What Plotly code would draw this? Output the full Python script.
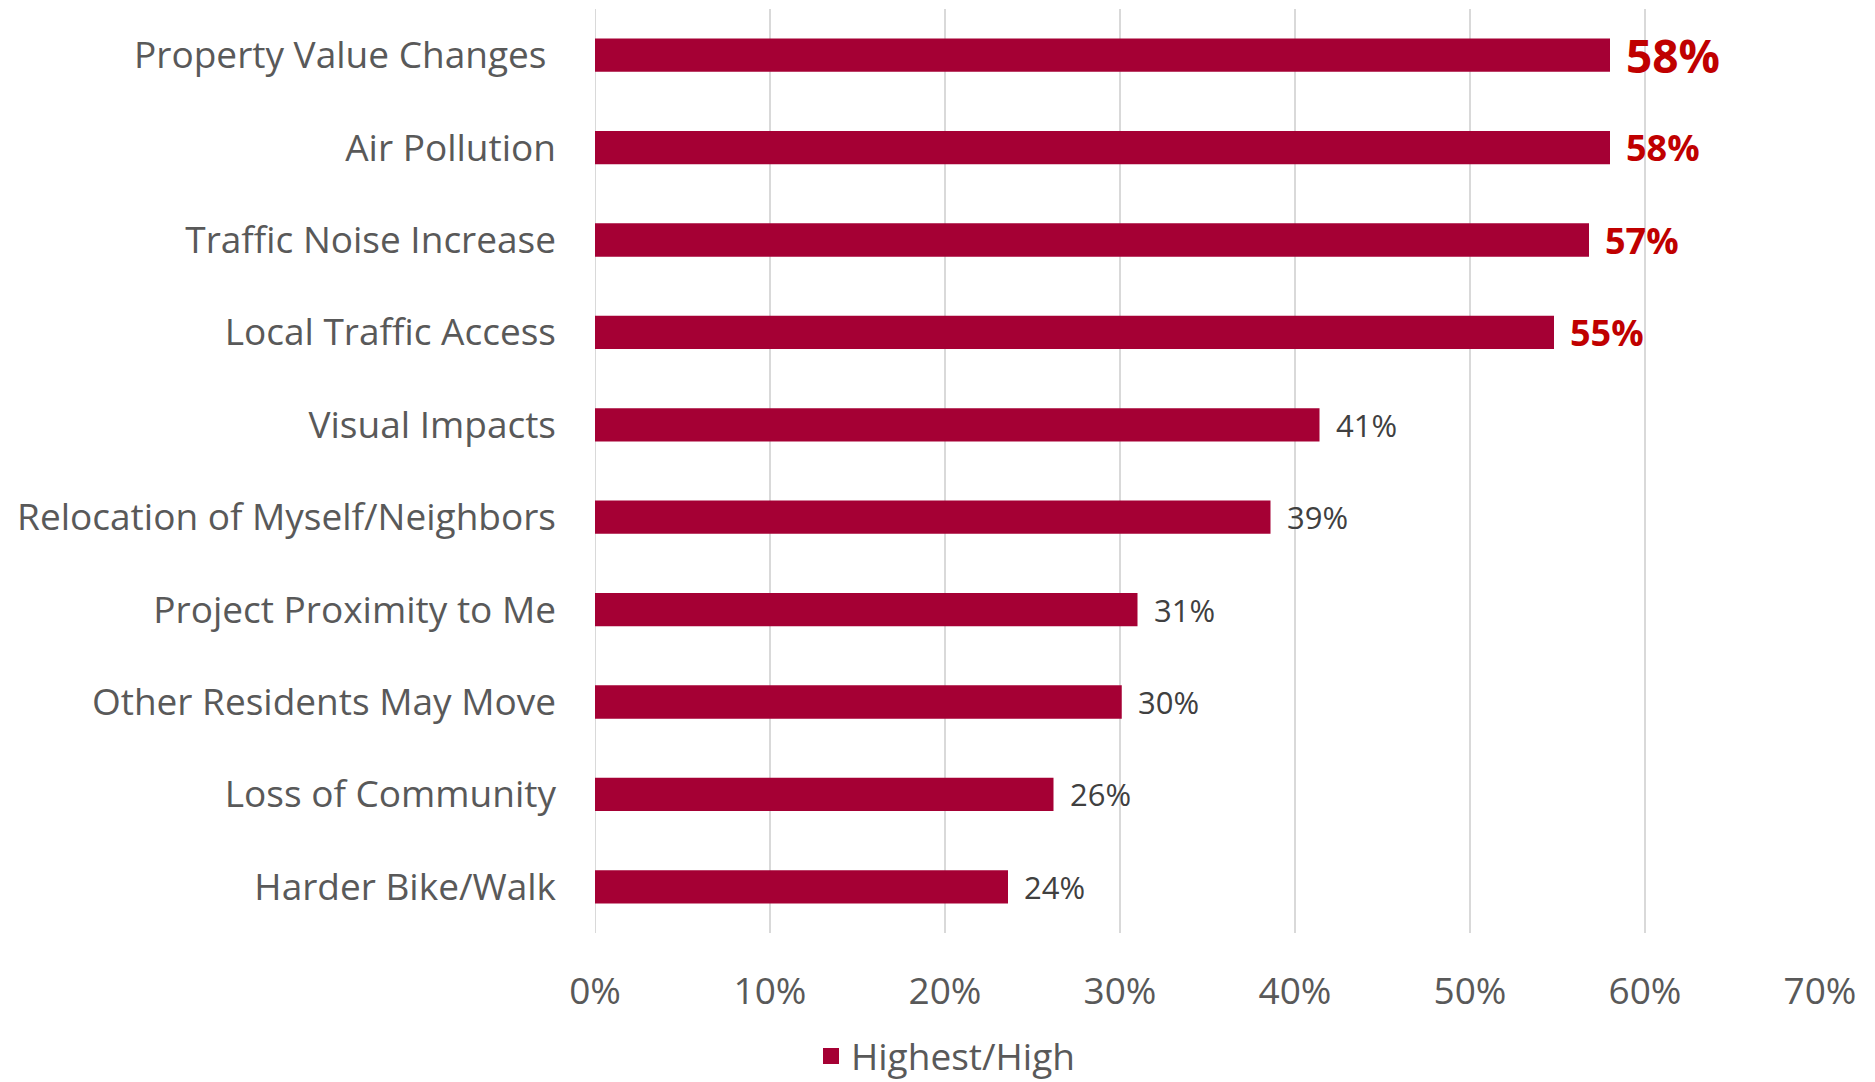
import plotly.graph_objects as go

categories = [
    "Property Value Changes ",
    "Air Pollution",
    "Traffic Noise Increase",
    "Local Traffic Access",
    "Visual Impacts",
    "Relocation of Myself/Neighbors",
    "Project Proximity to Me",
    "Other Residents May Move",
    "Loss of Community",
    "Harder Bike/Walk",
]
values = [0.58, 0.58, 0.568, 0.548, 0.414, 0.386, 0.310, 0.301, 0.262, 0.236]
value_labels = ["58%", "58%", "57%", "55%", "41%", "39%", "31%", "30%", "26%", "24%"]
label_sizes = [46, 36, 36, 36, 31, 31, 31, 31, 31, 31]
label_bold = [True, True, True, True, False, False, False, False, False, False]
tick_vals = [0, 0.1, 0.2, 0.3, 0.4, 0.5, 0.6, 0.7]
tick_text = ["0%", "10%", "20%", "30%", "40%", "50%", "60%", "70%"]
series_name = "Highest/High"

BAR = "#A50034"
FONT = "Open Sans, Noto Sans, sans-serif"

fig = go.Figure()
fig.add_trace(go.Bar(
    y=categories, x=values, orientation="h", name=series_name,
    marker=dict(color=BAR, line=dict(width=0)),
    showlegend=False,
))
# legend entry with a larger square swatch
fig.add_trace(go.Scatter(
    x=[None], y=[None], mode="markers", name=series_name,
    marker=dict(symbol="square", size=26, color=BAR),
    showlegend=True,
))

for c, v, t, s, b in zip(categories, values, value_labels, label_sizes, label_bold):
    fig.add_annotation(
        x=v, y=c, xref="x", yref="y", text=f"<b>{t}</b>" if b else t,
        showarrow=False, xanchor="left", yanchor="middle", xshift=14,
        font=dict(family=FONT, size=s, color="#C00000" if b else "#404040"),
    )

fig.update_layout(
    width=1875, height=1082,
    margin=dict(l=587, r=63, t=1, b=157, autoexpand=False),
    plot_bgcolor="white", paper_bgcolor="white",
    bargap=0.64,
    font=dict(family=FONT, color="#595959"),
    legend=dict(
        orientation="h", xref="container", yref="container",
        x=0.5, xanchor="center", y=0.031, yanchor="middle",
        font=dict(family=FONT, size=37, color="#595959"),
        itemwidth=30,
    ),
    xaxis=dict(
        range=[0, 0.7], tickvals=tick_vals, ticktext=tick_text,
        showgrid=True, gridcolor="#D9D9D9", gridwidth=2,
        zeroline=False, showline=False, ticks="", ticklabelstandoff=33,
        tickfont=dict(family=FONT, size=37, color="#595959"),
        automargin=False,
    ),
    yaxis=dict(
        categoryorder="array", categoryarray=categories[::-1],
        showgrid=False, zeroline=False, showline=False, ticks="",
        ticklabelstandoff=38, automargin=False,
        tickfont=dict(family=FONT, size=37, color="#595959"),
    ),
)
fig.add_vline(x=0, line=dict(color="#D9D9D9", width=2), layer="below")

fig.write_html("out.html")
